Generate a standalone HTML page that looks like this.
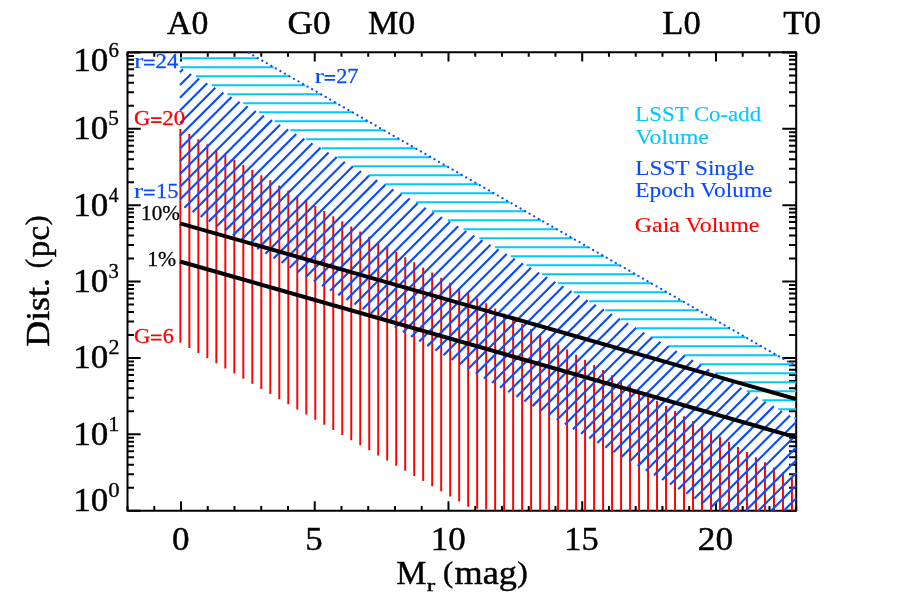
<!DOCTYPE html>
<html><head><meta charset="utf-8"><title>chart</title>
<style>html,body{margin:0;padding:0;background:#fff}svg{display:block}</style></head>
<body>
<svg width="900" height="616" viewBox="0 0 900 616">
<rect width="900" height="616" fill="#fff"/>
<rect x="127.50" y="52.20" width="668.70" height="458.50" fill="none" stroke="#000" stroke-width="2" stroke-linejoin="round"/>
<path d="M127.50 52.20v4.60M127.50 510.70v-4.60M154.25 52.20v4.60M154.25 510.70v-4.60M181.00 52.20v9.40M181.00 510.70v-9.40M207.74 52.20v4.60M207.74 510.70v-4.60M234.49 52.20v4.60M234.49 510.70v-4.60M261.24 52.20v4.60M261.24 510.70v-4.60M287.99 52.20v4.60M287.99 510.70v-4.60M314.74 52.20v9.40M314.74 510.70v-9.40M341.48 52.20v4.60M341.48 510.70v-4.60M368.23 52.20v4.60M368.23 510.70v-4.60M394.98 52.20v4.60M394.98 510.70v-4.60M421.73 52.20v4.60M421.73 510.70v-4.60M448.48 52.20v9.40M448.48 510.70v-9.40M475.22 52.20v4.60M475.22 510.70v-4.60M501.97 52.20v4.60M501.97 510.70v-4.60M528.72 52.20v4.60M528.72 510.70v-4.60M555.47 52.20v4.60M555.47 510.70v-4.60M582.22 52.20v9.40M582.22 510.70v-9.40M608.96 52.20v4.60M608.96 510.70v-4.60M635.71 52.20v4.60M635.71 510.70v-4.60M662.46 52.20v4.60M662.46 510.70v-4.60M689.21 52.20v4.60M689.21 510.70v-4.60M715.96 52.20v9.40M715.96 510.70v-9.40M742.70 52.20v4.60M742.70 510.70v-4.60M769.45 52.20v4.60M769.45 510.70v-4.60M796.20 52.20v4.60M796.20 510.70v-4.60M127.50 510.70h13.20M796.20 510.70h-13.90M127.50 487.71h6.50M796.20 487.71h-7.20M127.50 474.26h6.50M796.20 474.26h-7.20M127.50 464.71h6.50M796.20 464.71h-7.20M127.50 457.31h6.50M796.20 457.31h-7.20M127.50 451.26h6.50M796.20 451.26h-7.20M127.50 446.15h6.50M796.20 446.15h-7.20M127.50 441.72h6.50M796.20 441.72h-7.20M127.50 437.81h6.50M796.20 437.81h-7.20M127.50 434.32h13.20M796.20 434.32h-13.90M127.50 411.32h6.50M796.20 411.32h-7.20M127.50 397.87h6.50M796.20 397.87h-7.20M127.50 388.33h6.50M796.20 388.33h-7.20M127.50 380.93h6.50M796.20 380.93h-7.20M127.50 374.88h6.50M796.20 374.88h-7.20M127.50 369.77h6.50M796.20 369.77h-7.20M127.50 365.34h6.50M796.20 365.34h-7.20M127.50 361.43h6.50M796.20 361.43h-7.20M127.50 357.93h13.20M796.20 357.93h-13.90M127.50 334.94h6.50M796.20 334.94h-7.20M127.50 321.49h6.50M796.20 321.49h-7.20M127.50 311.95h6.50M796.20 311.95h-7.20M127.50 304.54h6.50M796.20 304.54h-7.20M127.50 298.50h6.50M796.20 298.50h-7.20M127.50 293.38h6.50M796.20 293.38h-7.20M127.50 288.95h6.50M796.20 288.95h-7.20M127.50 285.05h6.50M796.20 285.05h-7.20M127.50 281.55h13.20M796.20 281.55h-13.90M127.50 258.56h6.50M796.20 258.56h-7.20M127.50 245.11h6.50M796.20 245.11h-7.20M127.50 235.56h6.50M796.20 235.56h-7.20M127.50 228.16h6.50M796.20 228.16h-7.20M127.50 222.11h6.50M796.20 222.11h-7.20M127.50 217.00h6.50M796.20 217.00h-7.20M127.50 212.57h6.50M796.20 212.57h-7.20M127.50 208.66h6.50M796.20 208.66h-7.20M127.50 205.17h13.20M796.20 205.17h-13.90M127.50 182.17h6.50M796.20 182.17h-7.20M127.50 168.72h6.50M796.20 168.72h-7.20M127.50 159.18h6.50M796.20 159.18h-7.20M127.50 151.78h6.50M796.20 151.78h-7.20M127.50 145.73h6.50M796.20 145.73h-7.20M127.50 140.62h6.50M796.20 140.62h-7.20M127.50 136.19h6.50M796.20 136.19h-7.20M127.50 132.28h6.50M796.20 132.28h-7.20M127.50 128.78h13.20M796.20 128.78h-13.90M127.50 105.79h6.50M796.20 105.79h-7.20M127.50 92.34h6.50M796.20 92.34h-7.20M127.50 82.80h6.50M796.20 82.80h-7.20M127.50 75.39h6.50M796.20 75.39h-7.20M127.50 69.35h6.50M796.20 69.35h-7.20M127.50 64.23h6.50M796.20 64.23h-7.20M127.50 59.80h6.50M796.20 59.80h-7.20M127.50 55.90h6.50M796.20 55.90h-7.20M127.50 52.40h13.20M796.20 52.40h-13.90" stroke="#000" stroke-width="2" fill="none"/>
<path d="M180.36 128.99L180.36 342.86M189.36 134.12L189.36 347.98M198.35 139.25L198.35 353.10M207.34 144.37L207.34 358.22M216.34 149.50L216.34 363.34M225.33 154.63L225.33 368.46M234.33 159.76L234.33 373.58M243.32 164.89L243.32 378.70M252.31 170.02L252.31 383.82M261.31 175.15L261.31 388.94M270.30 180.27L270.30 394.05M279.29 185.40L279.29 399.17M288.29 190.53L288.29 404.29M297.28 195.66L297.28 409.41M306.28 200.79L306.28 414.53M315.27 205.92L315.27 419.65M324.26 211.04L324.26 424.77M333.26 216.17L333.26 429.89M342.25 221.30L342.25 435.01M351.25 226.43L351.25 440.13M360.24 231.56L360.24 445.25M369.24 236.69L369.24 450.37M378.23 241.82L378.23 455.49M387.22 246.94L387.22 460.61M396.22 252.07L396.22 465.72M405.21 257.20L405.21 470.84M414.20 262.33L414.20 475.96M423.20 267.46L423.20 481.08M432.19 272.59L432.19 486.20M441.19 277.71L441.19 491.32M450.18 282.84L450.18 496.44M459.17 287.97L459.17 501.56M468.17 293.10L468.17 506.68M477.16 298.23L477.16 508.66M486.16 303.36L486.16 509.54M495.15 308.49L495.15 510.42M504.14 313.61L504.14 510.70M513.14 318.74L513.14 510.70M522.13 323.87L522.13 510.70M531.13 329.00L531.13 510.70M540.12 334.13L540.12 510.70M549.12 339.26L549.12 510.70M558.11 344.38L558.11 510.70M567.10 349.51L567.10 510.70M576.10 354.64L576.10 510.70M585.09 359.77L585.09 510.70M594.09 364.90L594.09 510.70M603.08 370.03L603.08 510.70M612.07 375.16L612.07 510.70M621.07 380.28L621.07 510.70M630.06 385.41L630.06 510.70M639.05 390.54L639.05 510.70M648.05 395.67L648.05 510.70M657.04 400.80L657.04 510.70M666.04 405.93L666.04 510.70M675.03 411.05L675.03 510.70M684.02 416.18L684.02 510.70M693.02 421.31L693.02 510.70M702.01 426.44L702.01 510.70M711.01 431.57L711.01 510.70M720.00 436.70L720.00 510.70M729.00 441.83L729.00 510.70M737.99 446.95L737.99 510.70M746.98 452.08L746.98 510.70M755.98 457.21L755.98 510.70M764.97 462.34L764.97 510.70M773.97 467.47L773.97 510.70M782.96 472.60L782.96 510.70M791.95 477.72L791.95 510.70" stroke="#ff0000" stroke-width="1.95" fill="none"/>
<path d="M180.00 58.26L258.11 58.26M180.23 67.26L273.83 67.26M195.97 76.26L289.56 76.26M211.71 85.26L305.28 85.26M227.44 94.26L321.01 94.26M243.18 103.26L336.73 103.26M258.92 112.26L352.46 112.26M274.65 121.26L368.18 121.26M290.39 130.26L383.91 130.26M306.13 139.26L399.63 139.26M321.86 148.26L415.36 148.26M337.60 157.26L431.09 157.26M353.34 166.26L446.81 166.26M369.07 175.26L462.54 175.26M384.81 184.26L478.26 184.26M400.55 193.26L493.99 193.26M416.28 202.26L509.71 202.26M432.02 211.26L525.44 211.26M447.76 220.26L541.16 220.26M463.49 229.26L556.89 229.26M479.23 238.26L572.62 238.26M494.97 247.26L588.34 247.26M510.70 256.26L604.07 256.26M526.44 265.26L619.79 265.26M542.18 274.26L635.52 274.26M557.91 283.26L651.24 283.26M573.65 292.26L666.97 292.26M589.39 301.26L682.69 301.26M605.12 310.26L698.42 310.26M620.86 319.26L714.14 319.26M636.60 328.26L729.87 328.26M652.33 337.26L745.60 337.26M668.07 346.26L761.32 346.26M683.81 355.26L777.05 355.26M699.54 364.26L792.77 364.26M715.28 373.26L796.20 373.26M731.02 382.26L796.20 382.26M746.75 391.26L796.20 391.26M762.49 400.26L796.20 400.26M778.23 409.26L796.20 409.26M793.96 418.26L796.20 418.26" stroke="#00c8ff" stroke-width="2" fill="none"/>
<path d="M180.00 72.30L182.94 69.36M180.00 85.01L191.04 73.97M180.00 97.72L199.13 78.59M180.00 110.43L207.23 83.20M180.00 123.14L215.32 87.82M180.00 135.85L223.42 92.43M180.00 148.56L231.51 97.05M180.00 161.27L239.61 101.66M180.00 173.98L247.70 106.28M180.00 186.69L255.79 110.90M180.00 199.40L263.89 115.51M184.42 207.69L271.98 120.13M192.52 212.30L280.08 124.74M200.61 216.92L288.17 129.36M208.71 221.53L296.27 133.97M216.80 226.15L304.36 138.59M224.90 230.76L312.46 143.20M232.99 235.38L320.55 147.82M241.09 239.99L328.64 152.44M249.18 244.61L336.74 157.05M257.28 249.22L344.83 161.67M265.37 253.84L352.93 166.28M273.47 258.45L361.02 170.90M281.56 263.07L369.12 175.51M289.66 267.68L377.21 180.13M297.75 272.30L385.31 184.74M305.85 276.91L393.40 189.36M313.95 281.52L401.49 193.98M322.04 286.14L409.59 198.59M330.14 290.75L417.68 203.21M338.23 295.37L425.78 207.82M346.33 299.98L433.87 212.44M354.42 304.60L441.97 217.05M362.52 309.21L450.06 221.67M370.61 313.83L458.16 226.28M378.71 318.44L466.25 230.90M386.80 323.06L474.34 235.52M394.90 327.67L482.44 240.13M402.99 332.29L490.53 244.75M411.09 336.90L498.63 249.36M419.18 341.52L506.72 253.98M427.28 346.13L514.82 258.59M435.37 350.75L522.91 263.21M443.47 355.36L531.01 267.82M451.56 359.98L539.10 272.44M459.66 364.59L547.20 277.05M467.75 369.21L555.29 281.67M475.85 373.82L563.38 286.29M483.94 378.44L571.48 290.90M492.04 383.05L579.57 295.52M500.13 387.67L587.67 300.13M508.23 392.28L595.76 304.75M516.32 396.90L603.86 309.36M524.42 401.51L611.95 313.98M532.51 406.13L620.05 318.59M540.61 410.74L628.14 323.21M548.71 415.35L636.23 327.83M556.80 419.97L644.33 332.44M564.90 424.58L652.42 337.06M572.99 429.20L660.52 341.67M581.09 433.81L668.61 346.29M589.18 438.43L676.71 350.90M597.28 443.04L684.80 355.52M605.37 447.66L692.90 360.13M613.47 452.27L700.99 364.75M621.56 456.89L709.08 369.37M629.66 461.50L717.18 373.98M637.75 466.12L725.27 378.60M645.85 470.73L733.37 383.21M653.94 475.35L741.46 387.83M662.04 479.96L749.56 392.44M670.13 484.58L757.65 397.06M678.23 489.19L765.75 401.67M686.32 493.81L773.84 406.29M694.42 498.42L781.93 410.91M702.51 503.04L790.03 415.52M710.61 507.65L796.20 422.06M720.27 510.70L796.20 434.77M732.98 510.70L796.20 447.48M745.69 510.70L796.20 460.19M758.40 510.70L796.20 472.90M771.11 510.70L796.20 485.61M783.82 510.70L796.20 498.32" stroke="#0a4cff" stroke-width="2.15" fill="none"/>
<path d="M247.87 52.40L796.20 366.22" stroke="#0a4cff" stroke-width="2.1" stroke-linecap="round" stroke-dasharray="0.2 5.022" stroke-dashoffset="-0.8" fill="none"/>
<path d="M180.00 223.30L796.20 399.18M180.00 261.49L796.20 437.37" stroke="#000" stroke-width="4" fill="none"/>
<g font-family="'Liberation Serif', serif" style="opacity:0.999">
<text transform="translate(167.00 33.60) scale(1.0280 1)" font-size="32.9" fill="#000" stroke="#000" stroke-width="0.45">A0</text>
<text transform="translate(287.45 33.60) scale(1.0759 1)" font-size="32.9" fill="#000" stroke="#000" stroke-width="0.45">G0</text>
<text transform="translate(367.95 33.60) scale(1.0341 1)" font-size="32.9" fill="#000" stroke="#000" stroke-width="0.45">M0</text>
<text transform="translate(662.25 33.60) scale(1.0518 1)" font-size="32.9" fill="#000" stroke="#000" stroke-width="0.45">L0</text>
<text transform="translate(783.35 33.60) scale(1.0341 1)" font-size="32.9" fill="#000" stroke="#000" stroke-width="0.45">T0</text>
<text transform="translate(172.00 550.40) scale(1.0475 1)" font-size="33.5" fill="#000" stroke="#000" stroke-width="0.45">0</text>
<text transform="translate(305.25 550.40) scale(1.0394 1)" font-size="33.5" fill="#000" stroke="#000" stroke-width="0.45">5</text>
<text transform="translate(430.75 550.40) scale(1.0488 1)" font-size="33.5" fill="#000" stroke="#000" stroke-width="0.45">10</text>
<text transform="translate(564.25 550.40) scale(1.0269 1)" font-size="33.5" fill="#000" stroke="#000" stroke-width="0.45">15</text>
<text transform="translate(697.75 550.40) scale(1.0560 1)" font-size="33.5" fill="#000" stroke="#000" stroke-width="0.45">20</text>
<text transform="translate(73.15 510.90) scale(1.0471 1)" font-size="33.5" fill="#000" stroke="#000" stroke-width="0.45">10</text>
<text transform="translate(108.25 496.90) scale(1.0796 1)" font-size="21.2" fill="#000" stroke="#000" stroke-width="0.35">0</text>
<text transform="translate(73.15 444.87) scale(1.0471 1)" font-size="33.5" fill="#000" stroke="#000" stroke-width="0.45">10</text>
<text transform="translate(108.25 430.87) scale(1.0323 1)" font-size="21.2" fill="#000" stroke="#000" stroke-width="0.35">1</text>
<text transform="translate(73.15 368.48) scale(1.0471 1)" font-size="33.5" fill="#000" stroke="#000" stroke-width="0.45">10</text>
<text transform="translate(108.45 354.48) scale(1.0401 1)" font-size="21.2" fill="#000" stroke="#000" stroke-width="0.35">2</text>
<text transform="translate(73.15 292.10) scale(1.0471 1)" font-size="33.5" fill="#000" stroke="#000" stroke-width="0.45">10</text>
<text transform="translate(108.55 278.10) scale(0.9730 1)" font-size="21.2" fill="#000" stroke="#000" stroke-width="0.35">3</text>
<text transform="translate(73.15 215.72) scale(1.0471 1)" font-size="33.5" fill="#000" stroke="#000" stroke-width="0.45">10</text>
<text transform="translate(108.75 201.72) scale(0.9319 1)" font-size="21.2" fill="#000" stroke="#000" stroke-width="0.35">4</text>
<text transform="translate(73.15 139.33) scale(1.0471 1)" font-size="33.5" fill="#000" stroke="#000" stroke-width="0.45">10</text>
<text transform="translate(108.30 125.33) scale(1.0000 1)" font-size="21.2" fill="#000" stroke="#000" stroke-width="0.35">5</text>
<text transform="translate(73.15 70.90) scale(1.0471 1)" font-size="33.5" fill="#000" stroke="#000" stroke-width="0.45">10</text>
<text transform="translate(108.55 56.90) scale(0.9846 1)" font-size="21.2" fill="#000" stroke="#000" stroke-width="0.35">6</text>
<text transform="translate(396.25 584.40) scale(1.0325 1)" font-size="32.9" fill="#000" stroke="#000" stroke-width="0.45">M</text>
<text transform="translate(426.75 591.30) scale(1.5531 1)" font-size="16.5" fill="#000" stroke="#000" stroke-width="0.35">r</text>
<text transform="translate(443.00 581.70) scale(1.0654 1)" font-size="28.7" fill="#000" stroke="#000" stroke-width="0.45">(</text>
<text transform="translate(454.50 584.40) scale(1.0789 1)" font-size="33.6" fill="#000" stroke="#000" stroke-width="0.45">mag</text>
<text transform="translate(517.35 581.70) scale(1.1035 1)" font-size="28.7" fill="#000" stroke="#000" stroke-width="0.45">)</text>
<g transform="translate(49 346) rotate(-90)"><text transform="translate(-0.75 0.00) scale(1.0896 1)" font-size="32.9" fill="#000" stroke="#000" stroke-width="0.45">Dist.</text></g>
<g transform="translate(49 346) rotate(-90)"><text transform="translate(77.70 -2.85) scale(0.9568 1)" font-size="29.4" fill="#000" stroke="#000" stroke-width="0.45">(</text></g>
<g transform="translate(49 346) rotate(-90)"><text transform="translate(88.85 0.00) scale(0.9854 1)" font-size="33.6" fill="#000" stroke="#000" stroke-width="0.45">pc</text></g>
<g transform="translate(49 346) rotate(-90)"><text transform="translate(120.75 -2.85) scale(1.0065 1)" font-size="29.4" fill="#000" stroke="#000" stroke-width="0.45">)</text></g>
<text transform="translate(134.00 67.60) scale(1.3694 1)" font-size="20.7" fill="#0a4cff" stroke="#0a4cff" stroke-width="0.10">r</text>
<text transform="translate(155.55 67.60) scale(1.0963 1)" font-size="20.7" fill="#0a4cff" stroke="#0a4cff" stroke-width="0.30">24</text>
<text transform="translate(314.50 82.90) scale(1.3694 1)" font-size="20.7" fill="#0a4cff" stroke="#0a4cff" stroke-width="0.10">r</text>
<text transform="translate(336.15 82.90) scale(1.0795 1)" font-size="20.7" fill="#0a4cff" stroke="#0a4cff" stroke-width="0.30">27</text>
<text transform="translate(133.95 125.20) scale(1.0909 1)" font-size="20.7" fill="#ff0000" stroke="#ff0000" stroke-width="0.30">G</text>
<text transform="translate(162.25 125.20) scale(1.1040 1)" font-size="20.7" fill="#ff0000" stroke="#ff0000" stroke-width="0.30">20</text>
<text transform="translate(133.70 197.60) scale(1.3694 1)" font-size="20.7" fill="#0a4cff" stroke="#0a4cff" stroke-width="0.10">r</text>
<text transform="translate(156.00 197.60) scale(1.0879 1)" font-size="20.7" fill="#0a4cff" stroke="#0a4cff" stroke-width="0.30">15</text>
<text transform="translate(133.95 342.60) scale(1.1020 1)" font-size="20.7" fill="#ff0000" stroke="#ff0000" stroke-width="0.30">G</text>
<text transform="translate(162.85 342.60) scale(1.0652 1)" font-size="20.7" fill="#ff0000" stroke="#ff0000" stroke-width="0.30">6</text>
<text transform="translate(141.10 220.30) scale(1.0224 1)" font-size="20.7" fill="#000" stroke="#000" stroke-width="0.30">10%</text>
<text transform="translate(147.25 266.10) scale(1.0515 1)" font-size="20.7" fill="#000" stroke="#000" stroke-width="0.30">1%</text>
<text transform="translate(635.30 121.40) scale(1.0526 1)" font-size="21.7" fill="#00c8ff" stroke="#00c8ff" stroke-width="0.15">LSST Co-add</text>
<text transform="translate(635.55 143.80) scale(1.0921 1)" font-size="21.7" fill="#00c8ff" stroke="#00c8ff" stroke-width="0.15">Volume</text>
<text transform="translate(635.30 174.60) scale(1.0723 1)" font-size="21.7" fill="#0a4cff" stroke="#0a4cff" stroke-width="0.15">LSST Single</text>
<text transform="translate(635.30 197.40) scale(1.0749 1)" font-size="21.7" fill="#0a4cff" stroke="#0a4cff" stroke-width="0.15">Epoch Volume</text>
<text transform="translate(634.80 231.80) scale(1.1025 1)" font-size="21.7" fill="#ff0000" stroke="#ff0000" stroke-width="0.15">Gaia Volume</text>
</g>
<path d="M144.00 60.45H154.60M144.00 64.55H154.60" stroke="#0a4cff" stroke-width="1.75" fill="none"/>
<path d="M324.50 75.75H335.10M324.50 79.85H335.10" stroke="#0a4cff" stroke-width="1.75" fill="none"/>
<path d="M151.00 118.05H161.50M151.00 122.15H161.50" stroke="#ff0000" stroke-width="1.75" fill="none"/>
<path d="M144.00 190.45H154.70M144.00 194.55H154.70" stroke="#0a4cff" stroke-width="1.75" fill="none"/>
<path d="M151.00 335.45H161.60M151.00 339.55H161.60" stroke="#ff0000" stroke-width="1.75" fill="none"/>
</svg>
</body></html>
